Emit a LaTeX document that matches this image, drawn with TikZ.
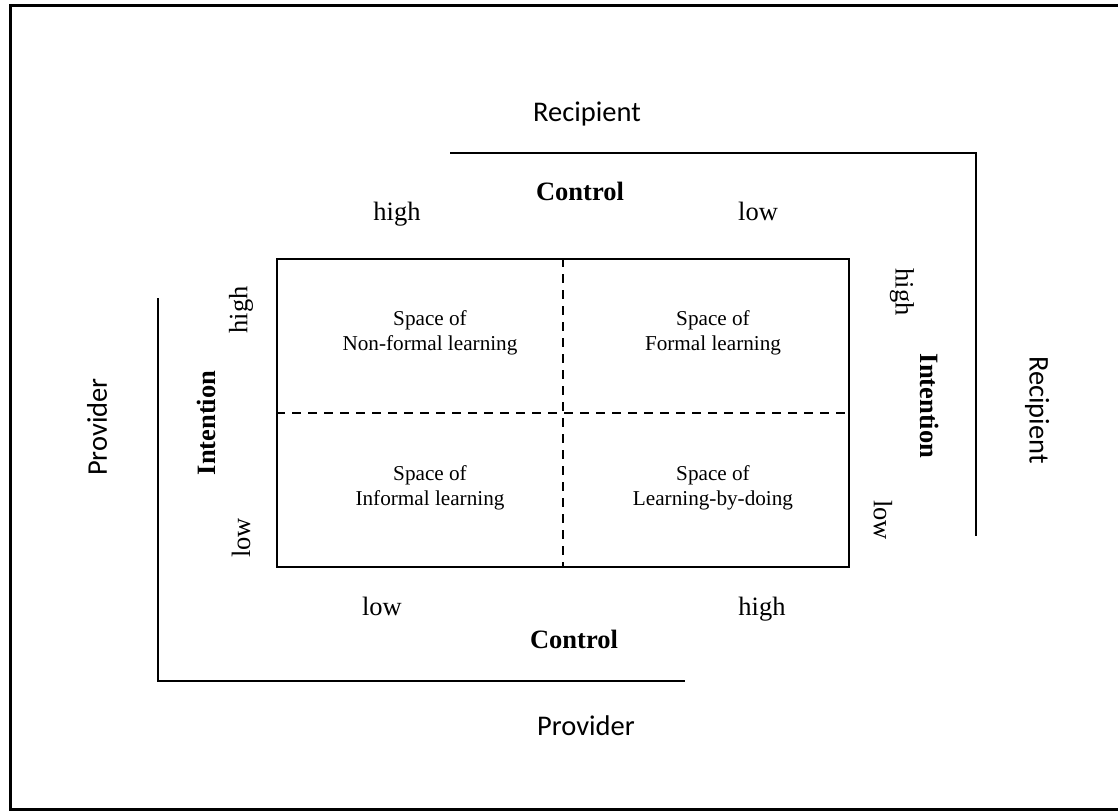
\documentclass[tikz,border=0pt]{standalone}
\usepackage{fontspec}
\setmainfont{Liberation Serif}
\newfontfamily\rolefont{Carlito}
\begin{document}
\begin{tikzpicture}[x=1pt,y=-1pt,
  lab/.style={font=\fontsize{26.5}{30}\selectfont, inner sep=0pt},
  axislab/.style={font=\fontsize{26.5}{30}\selectfont\bfseries, inner sep=0pt},
  role/.style={font=\rolefont\fontsize{28.5}{32}\selectfont, inner sep=0pt},
  cell/.style={font=\fontsize{21.2}{24.5}\selectfont, align=center, inner sep=0pt},
  border/.style={line width=3pt},
  bracket/.style={line width=2.4pt},
  gridline/.style={line width=1.4pt, dash pattern=on 9pt off 7pt}]
\useasboundingbox (0,0) rectangle (1118,811);

% outer frame (runs off the right edge)
\begin{scope}
  \clip (0,0) rectangle (1118,811);
  \draw[border] (10,5.5) rectangle (1140,809);
\end{scope}

% the 2x2 matrix
\node[draw, line width=2pt, minimum width=572pt, minimum height=308pt, inner sep=0pt]
  (grid) at (563,413) {};
\draw[gridline] (grid.north) -- (grid.south);
\coordinate (hend) at (845,413);
\draw[gridline] (grid.west) -- (hend);

% cells
\node[cell] (nonformal) at (430,333) {Space of\\Non-formal learning};
\node[cell] (formal)    at (713,333) {Space of\\Formal learning};
\node[cell] (informal)  at (430,488) {Space of\\Informal learning};
\node[cell] (doing)     at (713,488) {Space of\\Learning-by-doing};

% recipient bracket (top / right)
\coordinate (r0) at (450,153);
\coordinate (r1) at (976,153);
\coordinate (r2) at (976,536);
\draw[bracket] (r0) -- (r1) -- (r2);

% provider bracket (left / bottom)
\coordinate (p0) at (158,298);
\coordinate (p1) at (158,681);
\coordinate (p2) at (685,681);
\draw[bracket] (p0) -- (p1) -- (p2);

% top axis
\node[role, anchor=base] (rectop) at (587,121) {Recipient};
\node[axislab, anchor=base] (ctrltop) at (580,200) {Control};
\node[lab, anchor=base] (hightop) at (397,220) {high};
\node[lab, anchor=base] (lowtop) at (758,220) {low};

% bottom axis
\node[lab, anchor=base] (lowbot) at (382,615) {low};
\node[lab, anchor=base] (highbot) at (762,615) {high};
\node[axislab, anchor=base] (ctrlbot) at (574,648) {Control};
\node[role, anchor=base] (provbot) at (586,735) {Provider};

% left axis
\node[role, rotate=90] (provleft) at (97,427) {Provider};
\node[axislab, rotate=90] (intleft) at (206,423) {Intention};
\node[lab, rotate=90] (highleft) at (241,310) {high};
\node[lab, rotate=90] (lowleft) at (241,538) {low};

% right axis
\node[lab, rotate=-90] (highright) at (902,292) {high};
\node[axislab, rotate=-90] (intright) at (930,406) {Intention};
\node[lab, rotate=-90] (lowright) at (883,520) {low};
\node[role, rotate=-90] (recright) at (1037,410) {Recipient};
\end{tikzpicture}
\end{document}
